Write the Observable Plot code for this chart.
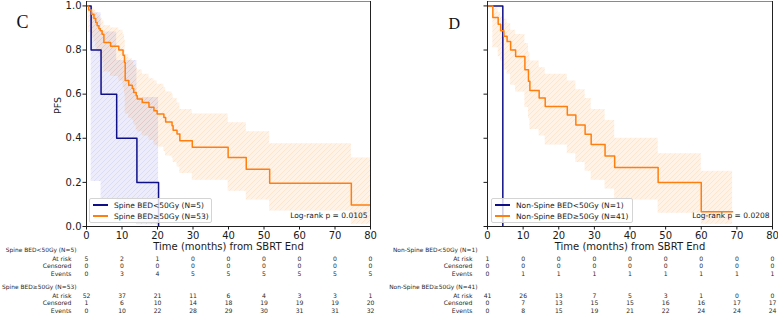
<!DOCTYPE html>
<html>
<head>
<meta charset="utf-8">
<script src="https://cdn.jsdelivr.net/npm/d3@7"></script>
<script src="https://cdn.jsdelivr.net/npm/@observablehq/plot@0.6"></script>
<style>
  html, body { margin: 0; padding: 0; background: #fff; }
  #fig { position: relative; width: 778px; height: 317px; overflow: hidden; font-family: "DejaVu Sans", sans-serif; }
  .panel { position: absolute; top: 0; }
  .legend { position: absolute; border: 1px solid #d4d4d4; border-radius: 2px; background: rgba(255,255,255,0.8);
            font-size: 7.5px; color: #1a1a1a; box-sizing: border-box; }
  .legend .row { position: absolute; left: 3px; height: 10px; display: flex; align-items: center; white-space: nowrap; }
  .legend .swatch { width: 15px; height: 1.5px; margin-right: 6px; }
</style>
</head>
<body>
<svg width="0" height="0" style="position:absolute">
  <defs>
    <pattern id="hatch-orange" patternUnits="userSpaceOnUse" width="5" height="5">
      <rect width="5" height="5" fill="#ff7f0e" fill-opacity="0.1"></rect>
      <path d="M-1,1 l2,-2 M0,5 l5,-5 M4,6 l2,-2" stroke="#ff7f0e" stroke-opacity="0.13" stroke-width="0.9"></path>
    </pattern>
    <pattern id="hatch-blue" patternUnits="userSpaceOnUse" width="5" height="5">
      <rect width="5" height="5" fill="#4848d0" fill-opacity="0.1"></rect>
      <path d="M-1,1 l2,-2 M0,5 l5,-5 M4,6 l2,-2" stroke="#4848d0" stroke-opacity="0.1" stroke-width="0.9"></path>
    </pattern>
  </defs>
</svg>
<div id="fig"></div>
<script>
// Axis ticks
const timeTicks = [0, 10, 20, 30, 40, 50, 60, 70, 80];
const pfsTicks = [0, 0.2, 0.4, 0.6, 0.8, 1.0];

// Panel C: spine lesions, BED < 50 Gy
const spineLowLabel = "Spine BED<50Gy (N=5)";
const spineLowTime  = [0, 1.3, 4.1, 8.5, 14.2, 20.3];
const spineLowPFS   = [1, 0.8, 0.6, 0.4, 0.2, 0];
const spineLowLower = [1, 0.204, 0.126, 0.052, 0.008, 0.008];
const spineLowUpper = [1, 0.969, 0.882, 0.753, 0.585, 0.585];

// Panel C: spine lesions, BED >= 50 Gy
const spineHighLabel = "Spine BED≥50Gy (N=53)";
const spineHighTime  = [0, 0.6, 1.4, 2.1, 2.6, 3.0, 3.5, 3.9, 4.4, 4.9, 6.8, 9.1, 10.3, 10.7, 10.9, 11.9, 12.9, 13.3, 14.0, 14.3,
                        15.7, 17.6, 19.0, 19.9, 21.8, 22.3, 24.1, 24.4, 25.5, 26.3, 29.8, 39.9, 45.0, 51.6, 74.6, 80];
const spineHighPFS   = [1, 0.981, 0.962, 0.943, 0.925, 0.91, 0.896, 0.887, 0.872, 0.834, 0.817, 0.80, 0.776, 0.743, 0.662, 0.640, 0.626, 0.608, 0.593, 0.578,
                        0.562, 0.541, 0.525, 0.510, 0.494, 0.474, 0.457, 0.436, 0.419, 0.389, 0.359, 0.313, 0.260, 0.196, 0.098, 0.098];
const spineHighLower = [1, 0.88, 0.86, 0.84, 0.81, 0.79, 0.78, 0.77, 0.75, 0.70, 0.68, 0.66, 0.63, 0.60, 0.51, 0.49, 0.48, 0.46, 0.44, 0.43,
                        0.41, 0.39, 0.37, 0.36, 0.34, 0.32, 0.31, 0.29, 0.27, 0.24, 0.21, 0.16, 0.12, 0.07, 0.01, 0.01];
const spineHighUpper = [1, 0.997, 0.99, 0.98, 0.97, 0.96, 0.95, 0.945, 0.935, 0.91, 0.90, 0.89, 0.87, 0.845, 0.78, 0.76, 0.75, 0.73, 0.72, 0.71,
                        0.69, 0.67, 0.66, 0.645, 0.63, 0.61, 0.60, 0.58, 0.56, 0.53, 0.51, 0.47, 0.43, 0.375, 0.31, 0.31];

// Panel D: non-spine lesions, BED < 50 Gy
const nonSpineLowLabel = "Non-Spine BED<50Gy (N=1)";
const nonSpineLowTime  = [0, 4.3];
const nonSpineLowPFS   = [1, 0];

// Panel D: non-spine lesions, BED >= 50 Gy
const nonSpineHighLabel = "Non-Spine BED≥50Gy (N=41)";
const nonSpineHighTime  = [0, 1.5, 3.0, 3.7, 4.6, 5.5, 6.5, 7.9, 10.5, 11.5, 11.9, 14.5, 16.2, 22.4, 24.8, 27.4, 29.1, 33.0, 35.7, 47.9, 60.0, 68.8];
const nonSpineHighPFS   = [1, 0.947, 0.917, 0.887, 0.862, 0.839, 0.80, 0.771, 0.711, 0.659, 0.617, 0.583, 0.544, 0.505, 0.46, 0.418, 0.372, 0.32, 0.268, 0.199, 0.067, 0.067];
const nonSpineHighLower = [1, 0.81, 0.77, 0.75, 0.71, 0.69, 0.64, 0.61, 0.54, 0.49, 0.44, 0.41, 0.37, 0.33, 0.29, 0.25, 0.21, 0.17, 0.12, 0.06, 0.01, 0.01];
const nonSpineHighUpper = [1, 0.99, 0.97, 0.95, 0.94, 0.92, 0.89, 0.87, 0.83, 0.79, 0.75, 0.72, 0.69, 0.66, 0.62, 0.58, 0.53, 0.48, 0.40, 0.33, 0.25, 0.25];

// Number-at-risk tables, one value per time tick
const spineLowAtRisk    = [5, 2, 1, 0, 0, 0, 0, 0, 0];
const spineLowCensored  = [0, 0, 0, 0, 0, 0, 0, 0, 0];
const spineLowEvents    = [0, 3, 4, 5, 5, 5, 5, 5, 5];
const spineHighAtRisk   = [52, 37, 21, 11, 6, 4, 3, 3, 1];
const spineHighCensored = [1, 6, 10, 14, 18, 19, 19, 19, 20];
const spineHighEvents   = [0, 10, 22, 28, 29, 30, 31, 31, 32];
const nonSpineLowAtRisk    = [1, 0, 0, 0, 0, 0, 0, 0, 0];
const nonSpineLowCensored  = [0, 0, 0, 0, 0, 0, 0, 0, 0];
const nonSpineLowEvents    = [0, 1, 1, 1, 1, 1, 1, 1, 1];
const nonSpineHighAtRisk   = [41, 26, 13, 7, 5, 3, 1, 0, 0];
const nonSpineHighCensored = [0, 7, 13, 15, 15, 16, 16, 17, 17];
const nonSpineHighEvents   = [0, 8, 15, 19, 21, 22, 24, 24, 24];

const rowNames = ["At risk", "Censored", "Events"];
const xLabel = "Time (months) from SBRT End";
const yLabel = "PFS";

const blue = "#0f0f88";
const orange = "#ff7f0e";

function series(label, color, hatch, time, pfs, lower, upper) {
  const rows = time.map((t, i) => ({t, s: pfs[i], lo: lower ? lower[i] : null, hi: upper ? upper[i] : null}));
  return {label, color, hatch, rows, hasBand: !!lower};
}

function drawPanel(cfg) {
  const marks = [];
  for (const s of cfg.series) {
    if (s.hasBand) marks.push(Plot.areaY(s.rows, {x: "t", y1: "lo", y2: "hi", curve: "step-after", fill: `url(#${s.hatch})`, clip: true}));
  }
  for (const s of cfg.series) {
    marks.push(Plot.line(s.rows, {x: "t", y: "s", curve: "step-after", stroke: s.color, strokeWidth: 1.5, clip: true}));
  }
  // frame
  marks.push(Plot.ruleY([1.02], {stroke: "#8a8a8a", strokeWidth: 1}));
  marks.push(Plot.ruleX([0, 80], {stroke: "#222", strokeWidth: 1}));
  marks.push(Plot.ruleY([0], {stroke: "#222", strokeWidth: 1}));
  marks.push(Plot.axisX({ticks: timeTicks, tickSize: 3.5, tickPadding: 2, fontSize: 10, label: null}));
  marks.push(Plot.axisY({ticks: pfsTicks, tickSize: 3.5, tickPadding: 1.5, fontSize: 10, label: null,
                         tickFormat: cfg.yTickLabels ? d3.format(".1f") : () => ""}));
  marks.push(Plot.text([xLabel], {frameAnchor: "bottom", dy: 23, fontSize: 10}));
  if (cfg.yTickLabels) marks.push(Plot.text([yLabel], {frameAnchor: "left", dx: -29, rotate: -90, fontSize: 9.5}));
  marks.push(Plot.text([cfg.logrank], {frameAnchor: "bottom-right", dx: -3, dy: -9, textAnchor: "end", fontSize: 7.5}));
  marks.push(Plot.text([cfg.letter], {frameAnchor: "top-left", dx: cfg.letterDx, dy: cfg.letterDy, fontSize: cfg.letterSize,
                                      fontFamily: "Liberation Serif", fill: "#111"}));
  // number-at-risk table
  cfg.tables.forEach((tb, g) => {
    const base = 25 + g * 37.3;
    marks.push(Plot.text([tb.header], {frameAnchor: "bottom-left", dx: -10, dy: base, textAnchor: "end", fontSize: 5.9, fill: "#2a2a2a"}));
    [tb.atRisk, tb.censored, tb.events].forEach((vals, r) => {
      const dy = base + 9 + r * 7.65;
      marks.push(Plot.text([rowNames[r]], {frameAnchor: "bottom-left", dx: -15, dy, textAnchor: "end", fontSize: 6.1, fill: "#2a2a2a"}));
      marks.push(Plot.text(timeTicks.map((t, i) => ({t, v: vals[i]})), {x: "t", text: "v", frameAnchor: "bottom", dy, fontSize: 6.1, fill: "#2a2a2a"}));
    });
  });
  const chart = Plot.plot({
    width: 389, height: 317,
    marginLeft: cfg.marginLeft, marginRight: cfg.marginRight, marginTop: 1, marginBottom: 91,
    x: {domain: [0, 80]},
    y: {domain: [0, 1.02]},
    style: {fontFamily: "DejaVu Sans", color: "#1a1a1a", background: "transparent", overflow: "visible"},
    marks
  });
  const holder = document.createElement("div");
  holder.className = "panel";
  holder.style.left = cfg.left + "px";
  holder.appendChild(chart);
  // legend box
  const lg = document.createElement("div");
  lg.className = "legend";
  Object.assign(lg.style, {left: cfg.legend.left + "px", top: "198px", width: cfg.legend.width + "px", height: "25px"});
  cfg.series.forEach((s, i) => {
    const row = document.createElement("div");
    row.className = "row";
    row.style.top = (1 + i * 11) + "px";
    const sw = document.createElement("span");
    sw.className = "swatch";
    sw.style.background = s.color;
    row.appendChild(sw);
    row.appendChild(document.createTextNode(s.label));
    lg.appendChild(row);
  });
  holder.appendChild(lg);
  document.getElementById("fig").appendChild(holder);
}

drawPanel({
  left: 0, marginLeft: 86, marginRight: 19, yTickLabels: true,
  letter: "C", letterDx: -70, letterDy: 14, letterSize: 18,
  logrank: "Log-rank p = 0.0105",
  legend: {left: 89, width: 123},
  series: [
    series(spineLowLabel, blue, "hatch-blue", spineLowTime, spineLowPFS, spineLowLower, spineLowUpper),
    series(spineHighLabel, orange, "hatch-orange", spineHighTime, spineHighPFS, spineHighLower, spineHighUpper)
  ],
  tables: [
    {header: spineLowLabel, atRisk: spineLowAtRisk, censored: spineLowCensored, events: spineLowEvents},
    {header: spineHighLabel, atRisk: spineHighAtRisk, censored: spineHighCensored, events: spineHighEvents}
  ]
});

drawPanel({
  left: 389, marginLeft: 98, marginRight: 6, yTickLabels: false,
  letter: "D", letterDx: -39, letterDy: 16, letterSize: 16,
  logrank: "Log-rank p = 0.0208",
  legend: {left: 102, width: 142},
  series: [
    series(nonSpineLowLabel, blue, "hatch-blue", nonSpineLowTime, nonSpineLowPFS, null, null),
    series(nonSpineHighLabel, orange, "hatch-orange", nonSpineHighTime, nonSpineHighPFS, nonSpineHighLower, nonSpineHighUpper)
  ],
  tables: [
    {header: nonSpineLowLabel, atRisk: nonSpineLowAtRisk, censored: nonSpineLowCensored, events: nonSpineLowEvents},
    {header: nonSpineHighLabel, atRisk: nonSpineHighAtRisk, censored: nonSpineHighCensored, events: nonSpineHighEvents}
  ]
});
</script>
</body>
</html>
